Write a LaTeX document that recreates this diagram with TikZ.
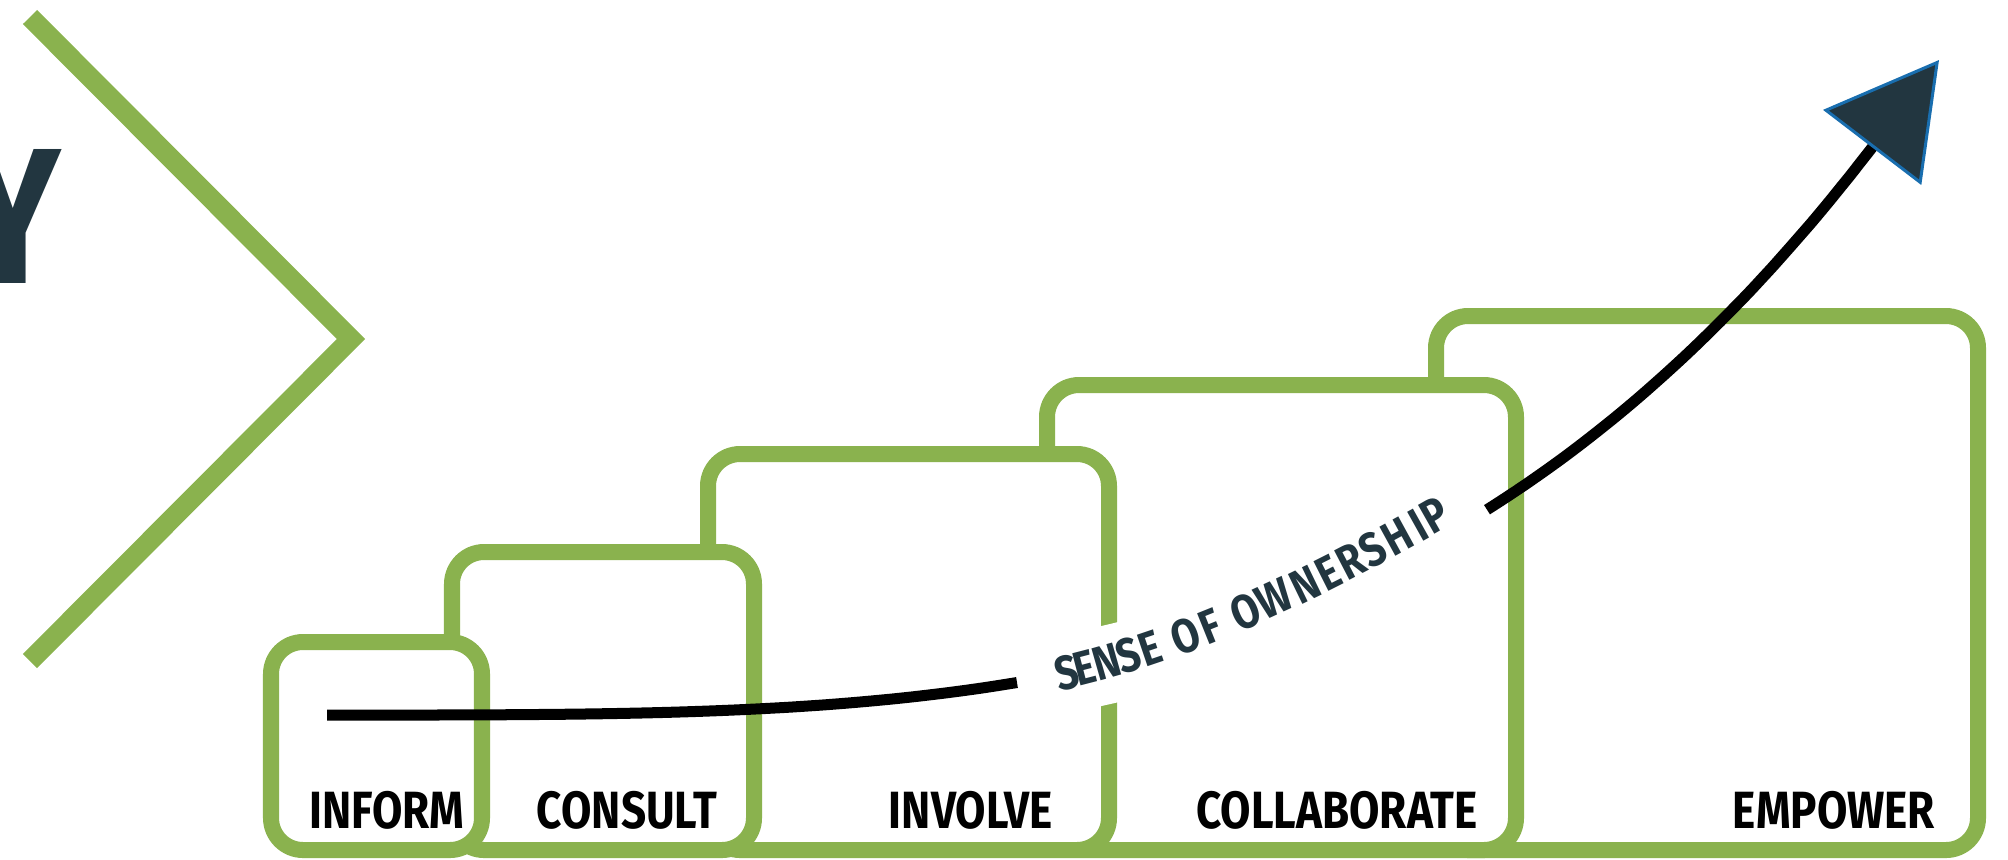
\documentclass[tikz,border=0pt]{standalone}
\usepackage{fontspec}
\newfontfamily\stagefont{Fira Sans}[FakeStretch=0.84]
\usetikzlibrary{arrows.meta}
\definecolor{leaf}{RGB}{138,178,78}
\definecolor{ink}{RGB}{34,54,64}
\definecolor{tipblue}{RGB}{25,110,175}
\tikzset{
  stage/.style={draw=leaf,fill=white,line width=0.16cm,rounded corners=0.32cm},
  stagelabel/.style={inner sep=0pt,anchor=base,font=\stagefont\bfseries\fontsize{14.9}{16}\selectfont},
  sense/.style={sloped,anchor=base,inner sep=0pt,ink,font=\stagefont\bfseries\fontsize{13.6}{15}\selectfont},
  trend/.style={line width=0.11cm},
}
\begin{document}
\begin{tikzpicture}[x=0.01cm,y=-0.01cm,declare function={g(\x)=715-565*((\x-326)/1544)^3.55;
            xs=327;xg=1017;xr=1487;xe=1870;}]
  \useasboundingbox (0,0) rectangle (2008,859);
  % chevron and the cut-off title
  \node[ink,anchor=base,inner sep=0pt,font=\stagefont\bfseries\fontsize{55}{60}\selectfont] (title) at (13,283) {Y};
  \draw[leaf,line width=0.2cm] (30,17) -- (351,339) -- (30,661);
  % stages, back to front
  \draw[stage] (1436,850) rectangle (1978,316);
  \draw[stage] (1047,850) rectangle (1516,385);
  \draw[stage] (708,850) rectangle (1109,454);
  \draw[stage] (452,850) rectangle (754,552);
  \draw[stage] (271,850) rectangle (482,642);
  \node[stagelabel] (inform)  at (387,828)  {INFORM};
  \node[stagelabel] (consult) at (627,828)  {CONSULT};
  \node[stagelabel] (involve) at (971,828)  {INVOLVE};
  \node[stagelabel] (collab)  at (1337,828) {COLLABORATE};
  \node[stagelabel] (empower) at (1834,828) {EMPOWER};
  % ownership curve
  \draw[white,line width=0.78cm] plot[domain=xg:xr,samples=30,smooth] (\x,{g(\x)});
  \draw[trend] plot[domain=xs:xg,samples=40,smooth] (\x,{g(\x)});
  \coordinate (tip) at (1939,60);
  \draw[trend,-{Triangle[length=1.1cm,width=1.23cm,fill=ink,color=tipblue,line width=0.03cm]}]
        plot[domain=xr:xe,samples=40,smooth] (\x,{g(\x)}) -- (tip);
  % lettering along the gap
  \coordinate (s0) at (1065,690);
  \coordinate (s1) at (1197,660);
  \coordinate (s2) at (1330,595);
  \coordinate (s3) at (1462,519);
  \foreach \ch/\t [count=\i] in {S/0.015,E/0.061,N/0.116,S/0.173,E/0.229,O/0.318,F/0.381,
        O/0.472,W/0.545,N/0.622,E/0.682,R/0.74,S/0.795,H/0.857,I/0.91,P/0.952}
    \path (s0) .. controls (s1) and (s2) .. (s3) node[sense,pos=\t] (own\i) {\ch};
\end{tikzpicture}
\end{document}
